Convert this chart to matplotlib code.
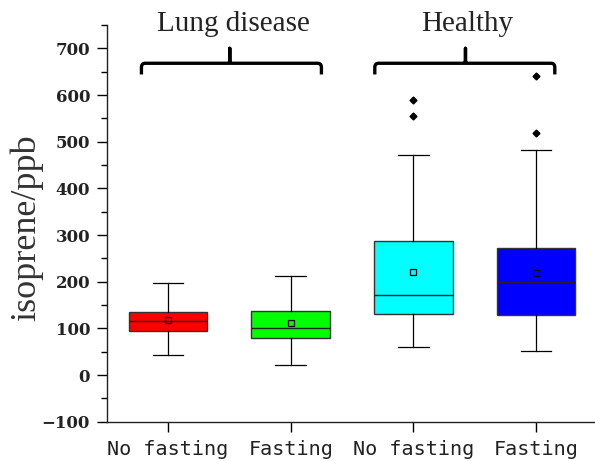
import matplotlib
matplotlib.use("Agg")
import matplotlib.pyplot as plt
from matplotlib.path import Path
from matplotlib.patches import PathPatch

# Isoprene (ppb) summary statistics per group
labels = ["No fasting", "Fasting", "No fasting", "Fasting"]
colors = ["#FF0000", "#00FF00", "#00FFFF", "#0000FF"]
whislo = [43, 21, 61, 51]
q1 = [94, 79, 131, 128]
med = [116, 101, 171, 199]
q3 = [136, 138, 288, 273]
whishi = [198, 213, 472, 482]
means = [117, 111, 220, 219]
fliers = [[], [], [554, 590], [518, 641]]

group_names = ["Lung disease", "Healthy"]

stats = []
for i in range(len(labels)):
    stats.append(dict(label=labels[i], whislo=whislo[i], q1=q1[i], med=med[i],
                      q3=q3[i], whishi=whishi[i], mean=means[i], fliers=fliers[i]))

W, H = 595, 461
fig = plt.figure(figsize=(W / 100, H / 100), dpi=100)
ax_left, ax_bottom, ax_right, ax_top = 106.7, 461 - 421.7, 595, 25
ax = fig.add_axes([ax_left / W, ax_bottom / H, (ax_right - ax_left) / W, (421.7 - ax_top) / H])

positions = [1, 2, 3, 4]
bp = ax.bxp(stats, positions=positions, widths=0.64, patch_artist=True,
            showmeans=True, showfliers=True,
            boxprops=dict(edgecolor="#333333", linewidth=1.0),
            medianprops=dict(color="#222222", linewidth=1.0),
            whiskerprops=dict(color="black", linewidth=0.9),
            capprops=dict(color="black", linewidth=0.9),
            capwidths=0.25,
            meanprops=dict(marker="s", markersize=4, markerfacecolor="none",
                           markeredgecolor="black", markeredgewidth=0.9),
            flierprops=dict(marker="D", markersize=3.5, markerfacecolor="black",
                            markeredgecolor="black"))
for patch, c in zip(bp["boxes"], colors):
    patch.set_facecolor(c)

ax.set_xlim(0.5, 0.5 + (ax_right - ax_left) / 122.7)
ax.set_ylim(-100, 750)

for side in ("top", "right"):
    ax.spines[side].set_visible(False)
for side in ("left", "bottom"):
    ax.spines[side].set_linewidth(1.0)
    ax.spines[side].set_color("#222222")

ax.set_yticks(range(-100, 701, 100))
ax.set_yticks(range(-50, 751, 100), minor=True)
ax.tick_params(axis="y", which="major", length=7, width=1, direction="out", pad=5)
ax.tick_params(axis="y", which="minor", length=4, width=1, direction="out")
ax.tick_params(axis="x", which="major", length=7, width=1, direction="out", pad=6)
ax.set_yticklabels([f"{v}".replace("-", "\u2212") for v in range(-100, 701, 100)],
                   fontfamily="DejaVu Serif", fontweight="bold", fontsize=12, color="#222222")
ax.set_xticks(positions)
ax.set_xticklabels(labels, fontfamily="DejaVu Sans Mono", fontsize=14.5, color="#222222")

ax.set_ylabel("isoprene/ppb", fontfamily="Liberation Serif", fontsize=26, color="#333333")
ax.yaxis.label.set_verticalalignment("center")
ax.yaxis.set_label_coords(-0.165, 0.49)

# Group braces with centred labels
brace_spans = [(0.783, 1.503, 2.250), (2.685, 3.424, 4.152)]
y_bar, y_end, y_tip = 668, 644, 700
rx, ry = 0.03, 9
for (x0, xc, x1), name in zip(brace_spans, group_names):
    verts = [(x0, y_end), (x0, y_bar - ry), (x0, y_bar), (x0 + rx, y_bar),
             (xc - 0.01, y_bar), (xc, y_bar), (xc, y_bar + ry), (xc, y_tip),
             (xc, y_bar + ry), (xc, y_bar), (xc + 0.01, y_bar),
             (x1 - rx, y_bar), (x1, y_bar), (x1, y_bar - ry), (x1, y_end)]
    codes = [Path.MOVETO, Path.LINETO, Path.CURVE3, Path.CURVE3,
             Path.LINETO, Path.CURVE3, Path.CURVE3, Path.LINETO,
             Path.LINETO, Path.CURVE3, Path.CURVE3,
             Path.LINETO, Path.CURVE3, Path.CURVE3, Path.LINETO]
    ax.add_patch(PathPatch(Path(verts, codes), facecolor="none", edgecolor="black",
                           linewidth=2.4, capstyle="butt", joinstyle="round", clip_on=False))
    ax.text((x0 + x1) / 2 + 0.02, 752, name, ha="center", va="center",
            fontfamily="Liberation Serif", fontsize=21, color="#222222", clip_on=False)

fig.savefig("out.png", dpi=100)
